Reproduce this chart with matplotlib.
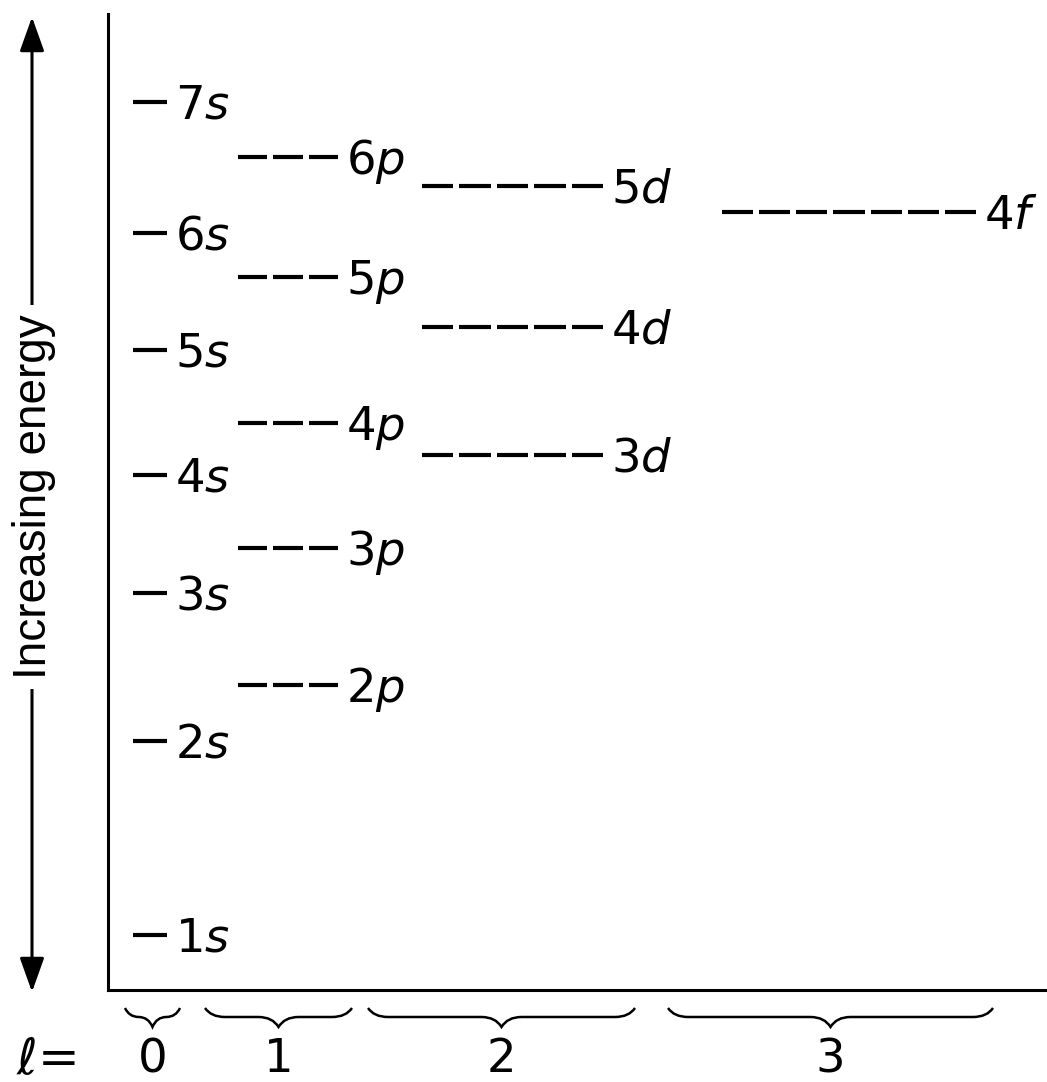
import matplotlib
matplotlib.use("Agg")
import matplotlib.pyplot as plt
from matplotlib.path import Path
from matplotlib.patches import PathPatch

# ---- data -------------------------------------------------------------
orbital_n = [1, 2, 2, 3, 3, 4, 3, 4, 5, 4, 5, 6, 4, 5, 6, 7]
orbital_l = [0, 0, 1, 0, 1, 0, 2, 1, 0, 2, 1, 0, 3, 2, 1, 0]
energy    = [55, 249, 305, 397, 442, 515, 535, 567, 640, 663, 713, 757, 778, 804, 833, 888]
l_letters = ["s", "p", "d", "f"]
l_values  = [0, 1, 2, 3]
axis_label = "Increasing energy"

# ---- layout (pixel-like x units, energy units on y) ------------------
group_x = [(133, 167), (238, 338), (422, 603), (722, 976)]   # dash extent per l
brace_x = [(125, 180), (205, 352), (368, 635), (668, 993)]
gap = 6
fs = 33.5

plt.rcParams["mathtext.fontset"] = "dejavusans"
plt.rcParams["font.family"] = ["DejaVu Sans"]

fig = plt.figure(figsize=(10.47, 10.82), dpi=100)
fig.patch.set_facecolor("white")
ax = fig.add_axes([108 / 1047, 92 / 1082, 939 / 1047, 976 / 1082])
ax.set_xlim(108, 1047)
ax.set_ylim(0, 976)
for s in ["top", "right"]:
    ax.spines[s].set_visible(False)
for s in ["left", "bottom"]:
    ax.spines[s].set_linewidth(2.2)
ax.set_xticks([])
ax.set_yticks([])

# ---- energy levels ---------------------------------------------------
for n, l, e in zip(orbital_n, orbital_l, energy):
    x0, x1 = group_x[l]
    k = 2 * l + 1
    seg = (x1 - x0 - gap * (k - 1)) / k
    for i in range(k):
        a = x0 + i * (seg + gap)
        ax.plot([a, a + seg], [e, e], color="black", lw=3, solid_capstyle="butt")
    ax.annotate(f"{n}${l_letters[l]}$", xy=(x1, e), xytext=(5.5, -0.729 * fs / 2),
                textcoords="offset points", ha="left", va="baseline",
                fontsize=fs, color="black")

# ---- increasing energy arrow -------------------------------------------
ax.annotate("", xy=(32, 973), xytext=(32, -2), annotation_clip=False,
            arrowprops=dict(arrowstyle="<|-|>,head_length=1.4,head_width=0.5",
                            mutation_scale=15, lw=2.2, color="black",
                            shrinkA=0, shrinkB=0))
ax.text(34, 493, axis_label, rotation=90, ha="center", va="center",
        fontsize=33, family=["Liberation Sans", "DejaVu Sans"], clip_on=False,
        zorder=5, bbox=dict(boxstyle="square,pad=0.2", fc="white", ec="none"))

# ---- braces and l labels -------------------------------------------------
yt, ym, yb = -18, -27, -37
for (x0, x1), lv in zip(brace_x, l_values):
    xc = (x0 + x1) / 2
    r = min(20, (xc - x0) / 2)
    verts = [(x0, yt), (x0 + r * 0.3, ym), (x0 + r, ym), (xc - r, ym), (xc - r * 0.3, ym), (xc, yb),
             (xc + r * 0.3, ym), (xc + r, ym), (x1 - r, ym), (x1 - r * 0.3, ym), (x1, yt)]
    codes = [Path.MOVETO, Path.CURVE3, Path.CURVE3, Path.LINETO, Path.CURVE3, Path.CURVE3,
             Path.CURVE3, Path.CURVE3, Path.LINETO, Path.CURVE3, Path.CURVE3]
    ax.add_patch(PathPatch(Path(verts, codes), fc="none", ec="black", lw=1.8,
                           clip_on=False))
    ax.text(xc, -70, str(lv), ha="center", va="center", fontsize=fs, clip_on=False)

ax.text(46, -70, r"$\ell$=", ha="center", va="center", fontsize=36, clip_on=False)

fig.savefig("out.png", dpi=100, facecolor="white")
